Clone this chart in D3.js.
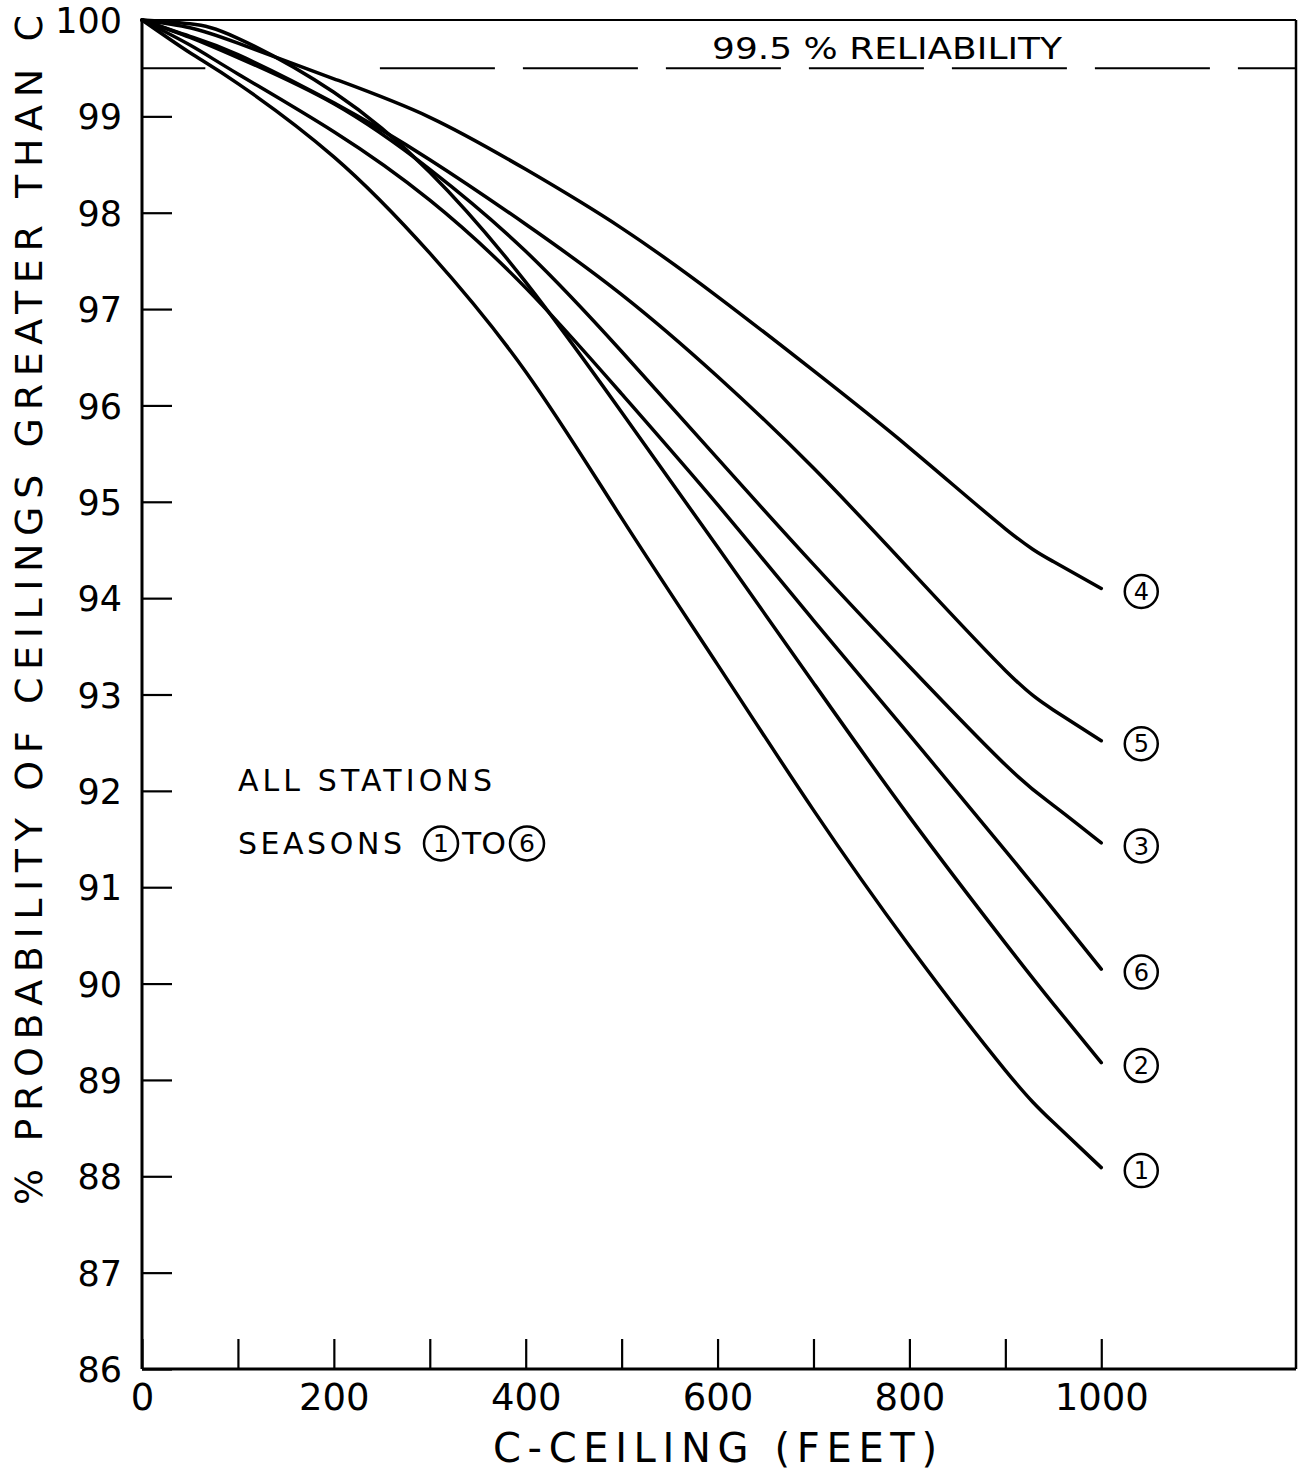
<!DOCTYPE html>
<html>
<head>
<meta charset="utf-8">
<script src="https://cdn.jsdelivr.net/npm/d3@7"></script>
<style>
  body { margin: 0; background: #fff; }
  text { font-family: "DejaVu Sans", sans-serif; fill: #000; }
</style>
</head>
<body>
<div id="chart"></div>
<script>
// C-ceiling in feet, and % probability of ceilings greater than C for each season
var feet    = [0, 50, 100, 200, 300, 400, 500, 600, 700, 800, 900, 950, 1000];
var season1 = [100, 99.66, 99.34, 98.58, 97.58, 96.35, 94.83, 93.31, 91.80, 90.39, 89.10, 88.56, 88.09];
var season2 = [100, 99.96, 99.81, 99.25, 98.42, 97.28, 95.93, 94.53, 93.12, 91.73, 90.42, 89.79, 89.18];
var season3 = [100, 99.82, 99.61, 99.13, 98.45, 97.60, 96.56, 95.45, 94.35, 93.29, 92.27, 91.85, 91.46];
var season4 = [100, 99.92, 99.76, 99.39, 98.99, 98.45, 97.84, 97.13, 96.36, 95.56, 94.72, 94.38, 94.10];
var season5 = [100, 99.83, 99.64, 99.14, 98.55, 97.88, 97.15, 96.30, 95.35, 94.30, 93.25, 92.84, 92.52];
var season6 = [100, 99.74, 99.44, 98.84, 98.13, 97.22, 96.12, 94.97, 93.77, 92.58, 91.38, 90.77, 90.15];
var seasonNames = ["1", "2", "3", "4", "5", "6"];

var yTicks = [86, 87, 88, 89, 90, 91, 92, 93, 94, 95, 96, 97, 98, 99, 100];
var xTicks = [0, 100, 200, 300, 400, 500, 600, 700, 800, 900, 1000];
var xLabels = [0, 200, 400, 600, 800, 1000];
var reliability = 99.5;

var width = 1303, height = 1473;
var plotLeft = 142, plotRight = 1296, plotTop = 20, plotBottom = 1369;

var svg = d3.select("#chart")
    .append("svg")
    .attr("width", width)
    .attr("height", height);

var x = d3.scaleLinear().domain([0, 1203]).range([plotLeft, plotRight]);
var y = d3.scaleLinear().domain([86, 100]).range([plotBottom, plotTop]);

// frame
svg.append("line").attr("x1", plotLeft).attr("x2", plotRight).attr("y1", plotTop).attr("y2", plotTop)
    .attr("stroke", "#000").attr("stroke-width", 2);
svg.append("line").attr("x1", plotRight).attr("x2", plotRight).attr("y1", plotTop).attr("y2", plotBottom)
    .attr("stroke", "#000").attr("stroke-width", 2.5);

// y axis, ticks pointing inward
var yAxis = svg.append("g")
    .attr("transform", "translate(" + plotLeft + ",0)")
    .call(d3.axisLeft(y).tickValues(yTicks).tickSize(-30).tickPadding(20).tickFormat(d3.format("d")));
yAxis.select(".domain").remove();
yAxis.selectAll(".tick line").attr("stroke-width", 2.2);
yAxis.selectAll(".tick text").attr("font-size", 35).style("font-family", "DejaVu Sans").attr("dy", "0.36em");

// x axis, ticks pointing inward
var xAxis = svg.append("g")
    .attr("transform", "translate(0," + plotBottom + ")")
    .call(d3.axisBottom(x).tickValues(xTicks).tickSize(-30).tickPadding(15)
        .tickFormat(function(d){ return xLabels.indexOf(d) >= 0 ? d : ""; }));
xAxis.select(".domain").remove();
xAxis.selectAll(".tick line").attr("stroke-width", 2.2);
xAxis.selectAll(".tick text").attr("font-size", 37).style("font-family", "DejaVu Sans");

svg.append("line").attr("x1", plotLeft).attr("x2", plotLeft).attr("y1", plotTop).attr("y2", plotBottom)
    .attr("stroke", "#000").attr("stroke-width", 3);
svg.append("line").attr("x1", plotLeft).attr("x2", plotRight).attr("y1", plotBottom).attr("y2", plotBottom)
    .attr("stroke", "#000").attr("stroke-width", 3);

// 99.5% reliability line
svg.append("line")
    .attr("x1", x(0)).attr("x2", x(66))
    .attr("y1", y(reliability)).attr("y2", y(reliability))
    .attr("stroke", "#000").attr("stroke-width", 2);
svg.append("line")
    .attr("x1", x(248)).attr("x2", plotRight)
    .attr("y1", y(reliability)).attr("y2", y(reliability))
    .attr("stroke", "#000").attr("stroke-width", 2)
    .attr("stroke-dasharray", "115,28");
svg.append("text")
    .attr("x", 712).attr("y", 59)
    .attr("font-size", 31)
    .attr("textLength", 350).attr("lengthAdjust", "spacingAndGlyphs")
    .text("99.5 % RELIABILITY");

// curves
var series = [season1, season2, season3, season4, season5, season6];
var line = d3.line()
    .x(function(d, i){ return x(feet[i]); })
    .y(function(d){ return y(d); })
    .curve(d3.curveNatural);

svg.selectAll(".curve")
    .data(series)
    .enter().append("path")
    .attr("class", "curve")
    .attr("d", line)
    .attr("fill", "none")
    .attr("stroke", "#000")
    .attr("stroke-width", 3.5)
    .attr("stroke-linecap", "round");

// circled season labels at the line ends
var ends = svg.selectAll(".end")
    .data(series)
    .enter().append("g")
    .attr("class", "end")
    .attr("transform", function(d){
        return "translate(" + (x(1000) + 40) + "," + (y(d[d.length - 1]) + 3) + ")";
    });
ends.append("circle").attr("r", 16.5).attr("fill", "none").attr("stroke", "#000").attr("stroke-width", 2.5);
ends.append("text")
    .attr("text-anchor", "middle").attr("dy", "0.36em")
    .attr("font-size", 24)
    .text(function(d, i){ return seasonNames[i]; });

// note
svg.append("text")
    .attr("x", x(100)).attr("y", y(92))
    .attr("font-size", 30)
    .attr("textLength", 254).attr("lengthAdjust", "spacing")
    .text("ALL STATIONS");
svg.append("text")
    .attr("x", x(100)).attr("y", y(91.34))
    .attr("font-size", 30)
    .attr("textLength", 164).attr("lengthAdjust", "spacing")
    .text("SEASONS");
var noteY = y(91.34) - 11;
[[441, seasonNames[0]], [527, seasonNames[5]]].forEach(function(c){
    svg.append("circle").attr("cx", c[0]).attr("cy", noteY).attr("r", 17)
        .attr("fill", "none").attr("stroke", "#000").attr("stroke-width", 2.5);
    svg.append("text").attr("x", c[0]).attr("y", noteY).attr("dy", "0.36em")
        .attr("text-anchor", "middle").attr("font-size", 25).text(c[1]);
});
svg.append("text")
    .attr("x", 462).attr("y", y(91.34))
    .attr("font-size", 30)
    .attr("textLength", 44).attr("lengthAdjust", "spacingAndGlyphs")
    .text("TO");

// axis titles
svg.append("text")
    .attr("x", 715).attr("y", 1462)
    .attr("text-anchor", "middle")
    .attr("font-size", 40)
    .attr("textLength", 444).attr("lengthAdjust", "spacing")
    .text("C-CEILING  (FEET)");
svg.append("text")
    .attr("transform", "translate(42,610) rotate(-90)")
    .attr("text-anchor", "middle")
    .attr("font-size", 38)
    .attr("textLength", 1190).attr("lengthAdjust", "spacing")
    .text("% PROBABILITY OF CEILINGS GREATER THAN C");
</script>
</body>
</html>
